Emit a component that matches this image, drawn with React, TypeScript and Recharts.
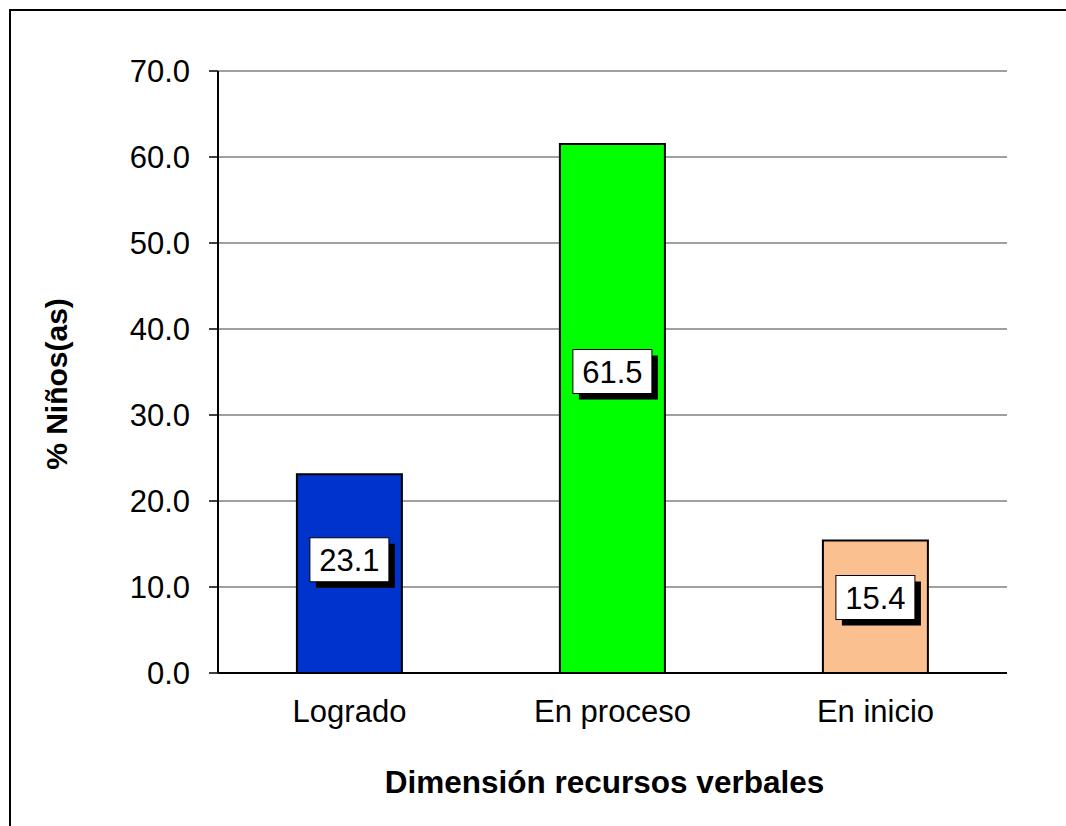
import React from 'react';
import { BarChart, Bar, XAxis, YAxis, CartesianGrid, Cell, LabelList } from 'recharts';

const categories = ['Logrado', 'En proceso', 'En inicio'];
const values = [23.1, 61.5, 15.4];
const colors = ['#0033CC', '#00FF00', '#FAC090'];
const yTicks = [0, 10, 20, 30, 40, 50, 60, 70];
const boundaryTicks = [0, 1, 2, 3];
const xTitle = 'Dimensión recursos verbales';
const yTitle = '% Niños(as)';

const data = categories.map((name, i) => ({ name, value: values[i] }));

const FONT = '"Liberation Sans", Arial, sans-serif';

const BoxLabel = (props: any) => {
  const { x, y, width, height, value } = props;
  const bw = 79;
  const bh = 44;
  const cx = x + width / 2;
  const cy = y + height * 0.43;
  const sh = 6;
  return (
    <g>
      <rect x={cx - bw / 2 + sh} y={cy - bh / 2 + sh} width={bw} height={bh} fill="#000" />
      <rect x={cx - bw / 2} y={cy - bh / 2} width={bw} height={bh} fill="#fff" stroke="#000" strokeWidth={1} />
      <text x={cx} y={cy + 1} textAnchor="middle" dominantBaseline="central" fontSize={31} fontFamily={FONT} fill="#000">
        {Number(value).toFixed(1)}
      </text>
    </g>
  );
};

export default function App() {
  return (
    <div style={{ position: 'absolute', left: 0, top: 0, width: 1066, height: 826, overflow: 'hidden', background: '#fff' }}>
      <div style={{ position: 'absolute', left: 9, top: 9, width: 1200, height: 1000, border: '2px solid #000', boxSizing: 'border-box' }} />
      <div style={{ position: 'absolute', left: 0, top: 0 }}>
        <BarChart
          width={1066}
          height={826}
          data={data}
          margin={{ top: 71, right: 59, left: 128, bottom: 93 }}
          barCategoryGap="30%"
          style={{ fontFamily: FONT }}
        >
          <CartesianGrid
            xAxisId="cat"
            stroke="#808080"
            strokeWidth={1.5}
            vertical={false}
            horizontalValues={yTicks}
          />
          <XAxis
            xAxisId="num"
            type="number"
            domain={[0, 3]}
            ticks={boundaryTicks}
            tick={false}
            tickSize={9}
            tickLine={{ stroke: '#000', strokeWidth: 1.5 }}
            axisLine={false}
            height={0}
          />
          <XAxis
            xAxisId="cat"
            dataKey="name"
            tickLine={false}
            tickSize={0}
            tickMargin={27}
            axisLine={{ stroke: '#000', strokeWidth: 2 }}
            tick={{ fill: '#000', fontSize: 31, fontFamily: FONT }}
            height={60}
            label={{
              content: (p: any) => {
                const vb = p.viewBox || {};
                return (
                  <text x={vb.x + vb.width / 2 - 8} y={793} textAnchor="middle" fontSize={31.5} fontWeight="bold" fontFamily={FONT} fill="#000">
                    {xTitle}
                  </text>
                );
              },
            }}
          />
          <YAxis
            domain={[0, 70]}
            ticks={yTicks}
            interval={0}
            width={90}
            tickSize={9}
            tickMargin={19}
            tickFormatter={(v: number) => v.toFixed(1)}
            tick={{ fill: '#000', fontSize: 31, fontFamily: FONT }}
            tickLine={{ stroke: '#000', strokeWidth: 1.5 }}
            axisLine={{ stroke: '#000', strokeWidth: 2 }}
            label={{
              content: (p: any) => {
                const vb = p.viewBox || {};
                const cy = vb.y + vb.height / 2 + 12;
                return (
                  <text x={56} y={cy} transform={`rotate(-90, 56, ${cy})`} textAnchor="middle" dominantBaseline="central" fontSize={30} fontWeight="bold" fontFamily={FONT} fill="#000">
                    {yTitle}
                  </text>
                );
              },
            }}
          />
          <YAxis
            yAxisId="r"
            orientation="right"
            domain={[0, 70]}
            width={0}
            tick={false}
            tickLine={false}
            axisLine={{ stroke: '#808080', strokeWidth: 2 }}
          />
          <Bar dataKey="value" xAxisId="cat" stroke="#000" strokeWidth={2} isAnimationActive={false}>
            {data.map((d, i) => (
              <Cell key={d.name} fill={colors[i]} />
            ))}
            <LabelList dataKey="value" content={<BoxLabel />} />
          </Bar>
        </BarChart>
      </div>
    </div>
  );
}
